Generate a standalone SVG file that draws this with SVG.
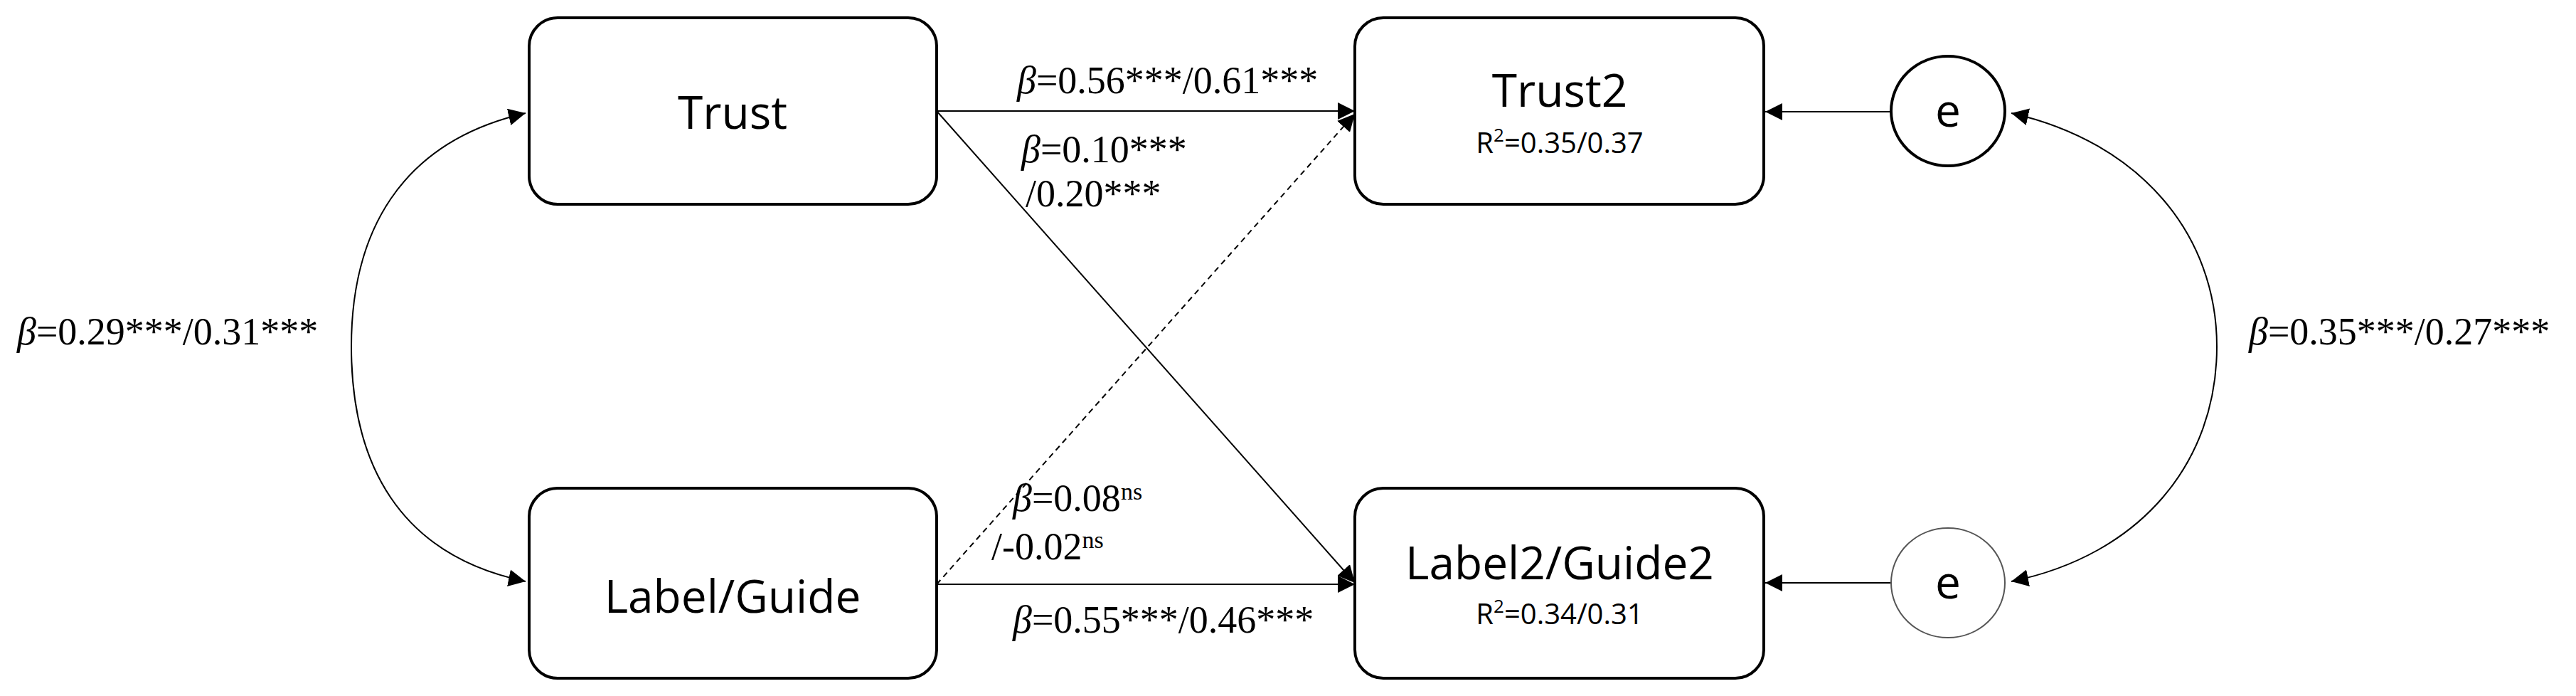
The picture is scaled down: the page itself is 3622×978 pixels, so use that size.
<svg xmlns="http://www.w3.org/2000/svg" width="3622" height="978" viewBox="0 0 3622 978">
<style>
.box{fill:#fff;stroke:#000;stroke-width:4}
.n{font-family:"Open Sans","Noto Sans",sans-serif;font-size:64px;text-anchor:middle}
.r{font-family:"Open Sans","Noto Sans",sans-serif;font-size:40px;text-anchor:middle}
.b{font-family:"Liberation Serif",serif;font-size:54px}
.c{fill:none;stroke:#000;stroke-width:2}
</style>
<defs>
<marker id="a" viewBox="0 0 10 10" refX="10" refY="5" markerWidth="10" markerHeight="10" markerUnits="userSpaceOnUse" orient="auto-start-reverse"><path d="M0,0L10,5L0,10z"/></marker>
<marker id="A" viewBox="0 0 10 10" refX="10" refY="5" markerWidth="24" markerHeight="24" markerUnits="userSpaceOnUse" orient="auto-start-reverse"><path d="M0,0L10,5L0,10z"/></marker>
</defs>
<g id="connectors">
<path class="c" d="M739,159 C560,200 494,330 494,487 C494,650 560,780 739,817" marker-start="url(#A)" marker-end="url(#A)"/>
<path class="c" d="M2828,159 C3010,200 3117,330 3117,487 C3117,650 3010,780 2828,817" marker-start="url(#A)" marker-end="url(#A)"/>
<line class="c" x1="1317" y1="156" x2="1905" y2="156" marker-end="url(#A)"/>
<line class="c" x1="1317" y1="156" x2="1905" y2="819" marker-end="url(#A)"/>
<line class="c" x1="1317" y1="821" x2="1905" y2="160" stroke-dasharray="8,6" marker-end="url(#A)"/>
<line class="c" x1="1317" y1="821" x2="1905" y2="821" marker-end="url(#A)"/>
<line class="c" x1="2661" y1="157" x2="2482" y2="157" marker-end="url(#A)"/>
<line class="c" x1="2661" y1="819" x2="2482" y2="819" marker-end="url(#A)"/>
</g>
<g id="trust"><rect class="box" x="744" y="25" width="573" height="262" rx="40"/><text class="n" x="1030" y="181">Trust</text></g>
<g id="label"><rect class="box" x="744" y="686" width="573" height="267" rx="40"/><text class="n" x="1030" y="861">Label/Guide</text></g>
<g id="trust2"><rect class="box" x="1905" y="25" width="575" height="262" rx="40"/><text class="n" x="2193" y="150">Trust2</text><text class="r" x="2193" y="215">R<tspan font-size="26" dy="-16">2</tspan><tspan dy="16">=0.35/0.37</tspan></text></g>
<g id="label2"><rect class="box" x="1905" y="686" width="575" height="267" rx="40"/><text class="n" x="2193" y="814">Label2/Guide2</text><text class="r" x="2193" y="877">R<tspan font-size="26" dy="-16">2</tspan><tspan dy="16">=0.34/0.31</tspan></text></g>
<g id="e1"><ellipse cx="2739" cy="156" rx="80" ry="77" fill="#fff" stroke="#000" stroke-width="4"/><text class="n" x="2739" y="178">e</text></g>
<g id="e2"><ellipse cx="2739" cy="819" rx="80" ry="77" fill="#fff" stroke="#555" stroke-width="2"/><text class="n" x="2739" y="841">e</text></g>
<g id="labels">
<text class="b" x="24" y="484"><tspan font-style="italic">β</tspan>=0.29***/0.31***</text>
<text class="b" x="3162" y="484"><tspan font-style="italic">β</tspan>=0.35***/0.27***</text>
<text class="b" x="1430" y="131"><tspan font-style="italic">β</tspan>=0.56***/0.61***</text>
<text class="b" x="1436" y="228"><tspan font-style="italic">β</tspan>=0.10***</text>
<text class="b" x="1442" y="290">/0.20***</text>
<text class="b" x="1424" y="718"><tspan font-style="italic">β</tspan>=0.08<tspan font-size="34" dy="-16">ns</tspan></text>
<text class="b" x="1394" y="786">/-0.02<tspan font-size="34" dy="-16">ns</tspan></text>
<text class="b" x="1424" y="889"><tspan font-style="italic">β</tspan>=0.55***/0.46***</text>
</g>
</svg>
